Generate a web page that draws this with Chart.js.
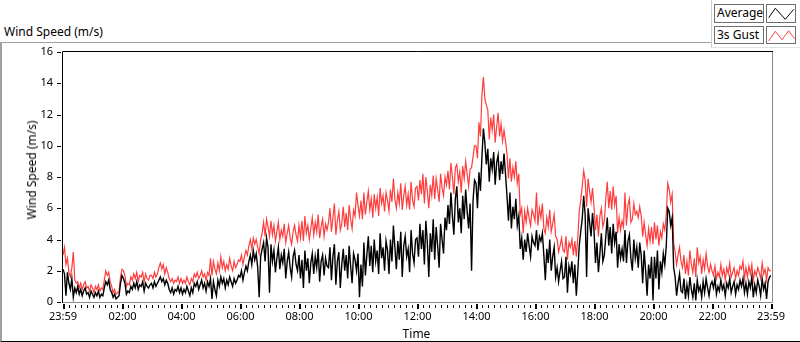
<!DOCTYPE html>
<html>
<head>
<meta charset="utf-8">
<script src="https://cdn.jsdelivr.net/npm/chart.js@4/dist/chart.umd.min.js"></script>
<style>
  html, body { margin: 0; padding: 0; background: #fff; overflow: hidden; }
  body { width: 800px; height: 342px; position: relative; font-family: "Noto Sans", sans-serif; color: #000; }
  .frame { position: absolute; left: 0; top: 42px; width: 900px; height: 298px;
           border-top: 1px solid #a0a0a0; border-left: 2px solid #a0a0a0; border-bottom: 1px solid #000; }
  #wrap { position: absolute; left: 0; top: 0; width: 800px; height: 342px; }
  .txt { position: absolute; font-size: 12px; line-height: 16px; white-space: nowrap; }
  .legpanel { position: absolute; left: 711px; top: -1px; width: 100px; height: 48px; background: #fff;
              border-left: 1px solid #d0d0d0; border-bottom: 1px solid #e2e2e2; }
  .lbox { position: absolute; box-sizing: border-box; border: 1px solid #6e6e6e; background: #fff;
          font-size: 12px; line-height: 16px; padding-left: 2px; }
  .ibox { position: absolute; box-sizing: border-box; border: 1px solid #6e6e6e; background: #fff; }
</style>
</head>
<body>
<div class="frame"></div>
<div class="txt" style="left:4px; top:24px;">Wind Speed (m/s)</div>
<div id="wrap"><canvas id="windChart" width="800" height="342"></canvas></div>
<div class="txt" style="left:416.5px; top:326px; transform: translateX(-50%);">Time</div>
<div class="txt" style="left:31.5px; top:169.5px; transform: translate(-50%,-50%) rotate(-90deg);">Wind Speed (m/s)</div>

<div class="legpanel"></div>
<div class="lbox" style="left:714px; top:4px; width:50px; height:19px;">Average</div>
<div class="ibox" style="left:766px; top:4px; width:30px; height:19px;">
  <svg width="28" height="17"><polyline points="1.7,12.7 8.3,3.3 18.3,14.3 26.7,4.3" fill="none" stroke="#000" stroke-width="1"/></svg>
</div>
<div class="lbox" style="left:714px; top:26px; width:50px; height:18px;">3s Gust</div>
<div class="ibox" style="left:766px; top:26px; width:30px; height:18px;">
  <svg width="28" height="16"><polyline points="1.7,13 8.3,3.3 15,11.7 21.7,2.7 27.5,10.7" fill="none" stroke="#ff4444" stroke-width="1"/></svg>
</div>

<script>
// 3-minute samples, minutes counted from 23:59 of the previous day
const sampleStep = 3;

// Average wind speed (m/s), one row per hour
const avgSpeed = [
  2.1, 1.8, 0.4, 1.9, 1.2, 0.8, 1.5, 0.3, 0.9, 0.6, 1.0, 0.5, 0.8, 0.4, 0.7, 0.9, 0.5, 0.6, 0.3, 0.7,
  0.5, 0.3, 0.6, 0.4, 0.7, 0.3, 0.5, 0.4, 0.9, 1.3, 1.1, 1.4, 0.8, 0.6, 0.3, 0.5, 0.2, 0.3, 0.4, 1.2,
  1.7, 1.5, 1.2, 0.5, 0.7, 0.6, 1.0, 0.8, 1.2, 0.9, 1.3, 0.8, 1.1, 1.0, 1.3, 0.7, 1.2, 1.0, 0.9, 1.1,
  1.2, 0.9, 1.3, 1.0, 1.2, 1.4, 1.6, 1.3, 1.5, 1.1, 1.4, 1.2, 0.8, 0.6, 0.9, 0.5, 0.8, 0.7, 1.0, 0.6,
  0.9, 0.5, 0.8, 0.6, 1.0, 0.7, 0.4, 0.9, 0.6, 1.2, 1.0, 1.3, 0.8, 1.1, 1.4, 0.9, 1.2, 0.7, 1.3, 1.0,
  1.5, 0.2, 1.3, 0.8, 0.4, 1.4, 1.0, 1.6, 1.2, 1.5, 0.9, 1.4, 1.1, 1.6, 1.3, 1.0, 1.5, 1.2, 1.4, 1.7,
  1.6, 2.0, 1.4, 1.9, 2.3, 2.0, 2.6, 3.0, 2.4, 3.3, 2.7, 3.1, 2.2, 0.3, 2.9, 3.4, 3.8, 2.6, 4.1, 3.5,
  0.6, 3.7, 2.6, 3.3, 1.9, 2.8, 3.5, 2.1, 3.0, 2.5, 3.4, 1.5, 2.6, 3.2, 2.2, 1.6, 2.9, 3.3, 2.4, 2.0,
  3.0, 1.5, 2.7, 0.9, 3.3, 2.0, 2.8, 1.2, 2.5, 3.1, 1.8, 2.9, 2.2, 3.4, 1.3, 2.6, 3.0, 1.7, 2.8, 2.3,
  2.2, 3.5, 1.4, 2.9, 3.7, 1.1, 2.6, 3.2, 0.9, 2.4, 3.4, 2.0, 3.0, 1.5, 3.6, 2.3, 1.2, 3.1, 2.7, 2.0,
  3.1, 0.3, 2.4, 1.0, 3.8, 1.7, 3.0, 4.2, 2.3, 3.6, 1.9, 4.0, 2.6, 3.3, 1.8, 4.4, 2.8, 3.5, 2.0, 3.9,
  3.3, 1.8, 4.0, 2.6, 4.9, 3.5, 2.1, 3.9, 2.7, 4.5, 1.6, 3.6, 4.2, 2.9, 3.4, 1.9, 4.6, 3.1, 2.5, 4.0,
  4.1, 2.9, 5.0, 3.4, 4.6, 2.4, 5.2, 3.8, 1.6, 4.4, 3.2, 5.3, 2.7, 4.8, 3.6, 2.2, 5.0, 4.0, 3.1, 5.4,
  4.6, 6.2, 5.0, 7.0, 5.5, 4.3, 6.6, 7.4, 5.1, 6.0, 4.4, 6.8, 5.3, 7.2, 5.8, 4.7, 6.3, 2.0, 6.5, 7.8,
  7.6, 6.0, 8.3, 7.1, 9.2, 11.1, 10.2, 8.8, 9.8, 7.7, 9.2, 8.5, 9.6, 7.5, 8.9, 9.4, 7.8, 9.0, 8.2, 9.5,
  8.2, 6.8, 5.2, 7.0, 4.7, 6.1, 5.3, 6.6, 4.9, 5.5, 3.4, 4.1, 2.7, 4.0, 3.2, 4.4, 3.6, 2.9, 4.2, 3.8,
  3.6, 4.6, 3.3, 4.2, 3.9, 4.4, 3.0, 1.4, 3.4, 2.5, 4.0, 2.0, 2.9, 3.5, 1.6, 2.2, 1.3, 2.0, 2.6, 1.5,
  1.6, 2.9, 0.6, 2.3, 1.8, 2.6, 1.2, 2.4, 0.4, 1.9, 3.6, 4.5, 5.3, 6.8, 5.6, 1.6, 6.0, 5.1, 4.2, 5.7,
  4.6, 2.5, 3.8, 1.9, 3.1, 4.4, 2.6, 3.0, 4.2, 5.4, 3.6, 4.8, 3.1, 5.0, 3.8, 4.5, 2.2, 3.7, 2.8, 3.4,
  2.6, 4.6, 2.5, 3.9, 4.3, 2.8, 2.0, 4.0, 2.8, 3.5, 2.2, 3.8, 3.0, 1.2, 3.3, 2.0, 0.4, 2.4, 1.5, 2.9,
  0.1, 2.9, 1.5, 3.3, 0.8, 2.6, 1.9, 3.1, 2.4, 3.6, 6.0, 5.8, 4.9, 5.4, 2.2, 1.6, 0.4, 1.2, 1.8, 0.7,
  0.6, 1.5, 0.2, 1.1, 0.4, 1.6, 0.8, 0.3, 1.2, 0.1, 1.4, 0.7, 1.0, 0.3, 1.3, 0.6, 1.5, 0.9, 0.4, 1.1,
  1.3, 0.9, 1.5, 0.5, 1.0, 0.7, 1.4, 0.8, 1.1, 0.4, 1.2, 0.9, 1.5, 0.6, 1.0, 1.3, 0.5, 1.1, 0.8, 1.4,
  1.0, 1.5, 0.6, 1.2, 0.5, 1.3, 0.9, 1.6, 0.3, 1.1, 0.6, 1.4, 1.0, 0.4, 1.5, 0.8, 1.2, 0.2, 1.3, 1.6, 1.7
];

// 3 second gust (m/s), one row per hour
const gustSpeed = [
  3.0, 3.5, 2.4, 2.8, 1.9, 1.6, 2.2, 3.2, 1.4, 1.2, 1.3, 0.9, 1.2, 0.8, 1.1, 1.3, 0.9, 1.0, 0.7, 1.1,
  0.9, 0.6, 1.0, 0.8, 1.1, 0.7, 0.9, 0.8, 1.4, 2.0, 1.7, 1.9, 1.3, 1.0, 0.6, 0.8, 0.5, 0.6, 0.7, 1.6,
  2.1, 2.0, 1.7, 1.0, 1.2, 1.1, 1.6, 1.4, 1.8, 1.5, 1.9, 1.3, 1.7, 1.6, 1.9, 1.3, 1.8, 1.5, 1.4, 1.7,
  1.7, 1.5, 1.9, 1.6, 1.8, 2.2, 2.5, 2.1, 2.4, 1.8, 2.2, 1.9, 1.5, 1.3, 1.5, 1.2, 1.4, 1.3, 1.6, 1.2,
  1.5, 1.2, 1.4, 1.2, 1.6, 1.3, 1.1, 1.5, 1.3, 1.8, 1.6, 1.9, 1.5, 1.7, 2.0, 1.6, 1.8, 1.4, 1.9, 1.7,
  2.8, 1.7, 2.6, 2.1, 1.8, 2.5, 2.0, 2.9, 2.2, 2.6, 2.0, 2.4, 2.1, 2.8, 2.3, 2.0, 2.6, 2.2, 2.4, 2.7,
  2.6, 3.0, 2.4, 2.9, 3.3, 3.0, 3.6, 4.0, 3.4, 4.1, 3.7, 4.0, 3.5, 3.1, 4.0, 4.4, 5.1, 4.2, 5.3, 4.8,
  4.2, 5.2, 4.3, 4.9, 3.9, 4.5, 5.1, 4.0, 4.6, 4.2, 5.0, 3.8, 4.4, 4.9, 4.1, 3.7, 4.5, 4.9, 4.3, 3.9,
  4.9, 4.1, 5.2, 3.9, 5.5, 4.4, 4.9, 4.0, 4.7, 5.4, 4.3, 5.1, 4.5, 5.6, 4.1, 4.8, 5.3, 4.2, 5.0, 4.6,
  5.1, 6.0, 4.5, 5.4, 6.3, 4.3, 5.2, 5.8, 4.6, 5.0, 6.1, 4.8, 5.7, 4.6, 6.2, 5.3, 4.7, 5.9, 5.5, 7.0,
  6.2, 5.5, 6.5, 5.3, 7.0, 5.6, 6.4, 7.1, 5.9, 6.6, 5.4, 6.9, 6.0, 6.7, 5.5, 7.3, 6.3, 6.8, 5.8, 7.0,
  6.5, 5.8, 7.2, 6.4, 7.9, 6.6, 6.0, 7.0, 6.3, 7.6, 5.9, 6.8, 7.4, 6.2, 6.9, 5.9, 7.7, 6.5, 6.1, 7.3,
  7.4, 6.5, 7.8, 6.9, 8.2, 6.3, 8.0, 7.1, 6.0, 7.5, 6.8, 8.1, 6.6, 7.9, 7.2, 6.4, 8.2, 7.3, 6.8, 8.0,
  7.5, 8.4, 7.2, 8.9, 8.0, 6.9, 8.6, 8.8, 7.7, 8.3, 7.0, 8.7, 7.9, 9.0, 8.2, 7.4, 8.5, 8.6, 9.3, 10.0,
  10.0, 9.2, 11.5, 10.6, 13.2, 14.4, 13.0, 12.6, 12.3, 10.4, 11.8, 11.0, 12.0, 10.2, 11.2, 12.1, 10.6, 11.4, 10.3, 11.0,
  10.3, 9.5, 7.9, 9.2, 7.7, 8.6, 8.0, 9.0, 7.6, 8.2, 5.6, 6.0, 4.4, 5.8, 5.1, 6.0, 5.4, 4.9, 5.9, 5.6,
  5.2, 7.0, 4.9, 6.0, 5.4, 6.3, 4.7, 4.4, 5.4, 4.8, 5.9, 4.5, 5.0, 5.6, 4.2, 4.0, 3.2, 3.6, 4.1, 3.3,
  3.2, 4.2, 2.7, 3.8, 3.5, 4.0, 3.0, 3.9, 2.9, 4.1, 5.8, 6.5, 7.4, 8.4, 7.8, 6.1, 7.9, 7.1, 6.4, 7.3,
  6.1, 4.6, 5.6, 4.2, 5.5, 6.0, 4.8, 5.2, 6.6, 7.7, 6.0, 7.1, 5.9, 7.4, 6.2, 6.8, 4.4, 5.4, 4.6, 5.2,
  4.8, 7.0, 4.9, 6.2, 6.6, 5.1, 5.3, 6.3, 5.6, 5.8, 5.4, 6.1, 5.5, 4.2, 5.1, 4.3, 3.6, 4.7, 3.9, 4.8,
  3.7, 5.1, 4.0, 4.9, 3.6, 4.5, 4.1, 5.0, 4.6, 5.6, 7.6, 7.2, 6.4, 6.9, 3.8, 3.2, 2.4, 3.0, 3.5, 2.6,
  2.2, 3.0, 1.8, 2.6, 1.7, 3.3, 2.4, 1.9, 2.8, 1.6, 3.5, 2.5, 2.9, 1.8, 2.7, 2.1, 3.1, 2.3, 1.9, 2.4,
  2.0, 1.7, 2.3, 1.5, 1.9, 1.6, 2.4, 1.7, 2.1, 1.4, 2.2, 1.8, 2.5, 1.6, 1.9, 2.2, 1.5, 2.0, 1.7, 2.3,
  2.1, 2.6, 1.5, 2.2, 1.6, 2.3, 1.8, 2.4, 1.4, 2.0, 1.7, 2.2, 1.9, 1.5, 2.5, 1.8, 2.1, 1.4, 2.2, 2.0, 2.0
];

// x axis labels (minutes after 23:59)
const tickMinutes = [0, 121, 241, 361, 481, 601, 721, 841, 961, 1081, 1201, 1321, 1440];
const timeLabels = ["23:59", "02:00", "04:00", "06:00", "08:00", "10:00", "12:00",
                    "14:00", "16:00", "18:00", "20:00", "22:00", "23:59"];

const toPoints = arr => arr.map((v, i) => ({ x: i * sampleStep, y: v }));

// small tick marks + plot frame, LabVIEW style
const labviewFrame = {
  id: 'labviewFrame',
  beforeDatasetsDraw(chart) {
    const { ctx, chartArea: a } = chart;
    ctx.save();
    ctx.lineWidth = 1;
    ctx.strokeStyle = '#000';
    ctx.beginPath();
    ctx.moveTo(a.left - 0.5, a.bottom + 1);
    ctx.lineTo(a.left - 0.5, a.top - 0.5);
    ctx.lineTo(a.right + 2, a.top - 0.5);
    ctx.stroke();
    ctx.strokeStyle = '#8a8a8a';
    ctx.beginPath();
    ctx.moveTo(a.right + 1.5, a.top);
    ctx.lineTo(a.right + 1.5, a.bottom + 0.5);
    ctx.lineTo(a.left, a.bottom + 0.5);
    ctx.stroke();
    ctx.restore();
  },
  afterDraw(chart) {
    const { ctx, scales: { x, y } } = chart;
    ctx.save();
    ctx.fillStyle = '#000';
    tickMinutes.forEach(m => {
      ctx.fillRect(Math.round(x.getPixelForValue(m)), 304, 2, 5);
    });
    for (let k = 0; k < tickMinutes.length - 1; k++) {
      const next = tickMinutes[k + 1];
      for (let m = next - 12; m > tickMinutes[k] + 5; m -= 12) {
        ctx.fillRect(Math.round(x.getPixelForValue(m)), 305, 1, 3);
      }
    }
    for (let v = 0; v <= 16; v += 2) {
      ctx.fillRect(57, Math.round(y.getPixelForValue(v)), 4, 1);
    }
    ctx.restore();
  }
};

const tickFont = { family: "Noto Sans", size: 11 };

new Chart(document.getElementById('windChart').getContext('2d'), {
  type: 'line',
  data: {
    datasets: [
      { label: 'Average', data: toPoints(avgSpeed), borderColor: '#000000', borderWidth: 1.4 },
      { label: '3s Gust', data: toPoints(gustSpeed), borderColor: '#ff3c3c', borderWidth: 1.2 }
    ]
  },
  options: {
    responsive: false,
    animation: false,
    events: [],
    layout: { padding: { top: 52, right: 29, left: 0, bottom: 0 } },
    elements: { point: { radius: 0 }, line: { tension: 0 } },
    plugins: { legend: { display: false }, tooltip: { enabled: false } },
    scales: {
      x: {
        type: 'linear',
        min: 0,
        max: 1440,
        afterFit: s => { s.height = 40; },
        afterBuildTicks: s => { s.ticks = tickMinutes.map(v => ({ value: v })); },
        grid: { display: false, drawTicks: false },
        border: { display: false },
        ticks: {
          autoSkip: false,
          maxRotation: 0,
          padding: 8,
          color: '#000',
          font: tickFont,
          callback: (val, idx) => timeLabels[idx]
        }
      },
      y: {
        min: 0,
        max: 16,
        afterFit: s => { s.width = 63; },
        grid: { display: false, drawTicks: false },
        border: { display: false },
        ticks: { stepSize: 2, padding: 10, color: '#000', font: tickFont }
      }
    }
  },
  plugins: [labviewFrame]
});
</script>
</body>
</html>
